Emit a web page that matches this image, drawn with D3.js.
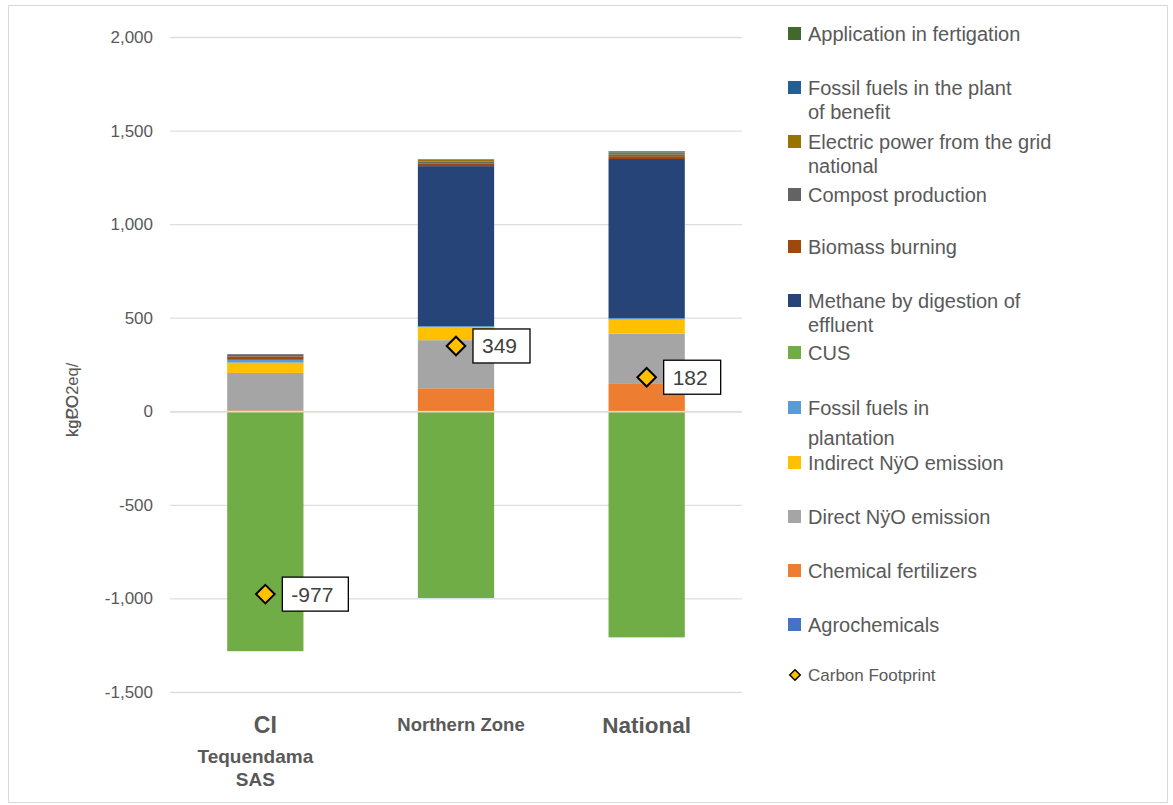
<!DOCTYPE html>
<html>
<head>
<meta charset="utf-8">
<script src="https://cdn.jsdelivr.net/npm/d3@7"></script>
<style>
  body { margin: 0; background: #fff; }
  svg { font-family: "Liberation Sans", Arial, sans-serif; }
</style>
</head>
<body>
<div id="chart"></div>
<script>
// categories (x axis)
const categories = ['CI Tequendama SAS', 'Northern Zone', 'National'];

// series, stacking order bottom -> top (kg CO2eq)
const seriesNames = [
    'Agrochemicals', 'Chemical fertilizers', 'Direct NÿO emission', 'Indirect NÿO emission',
    'Fossil fuels in plantation', 'CUS', 'Methane by digestion of effluent', 'Biomass burning',
    'Compost production', 'Electric power from the grid national',
    'Fossil fuels in the plant of benefit', 'Application in fertigation'
];
const agrochemicals   = [0, 2, 2];
const chemFertilizers = [5, 121, 148];
const directN2O       = [200, 257, 265];
const indirectN2O     = [55, 70, 75];
const fossilPlantation = [15, 5, 8];
const cus             = [-1282, -998, -1208];
const methane         = [0, 855, 850];
const biomass         = [18, 15, 15];
const compost         = [12, 10, 10];
const electric        = [0, 8, 10];
const fossilPlant     = [0, 2, 4];
const fertigation     = [0, 2, 3];
const carbonFootprint = [-977, 349, 182];

const seriesValues = [agrochemicals, chemFertilizers, directN2O, indirectN2O, fossilPlantation,
    cus, methane, biomass, compost, electric, fossilPlant, fertigation];
const seriesColors = ['#4472c4', '#ed7d31', '#a5a5a5', '#ffc000', '#5b9bd5', '#70ad47',
    '#264478', '#9e480e', '#636363', '#997300', '#255e91', '#43682b'];

// y ticks
const yTicks = [-1500, -1000, -500, 0, 500, 1000, 1500, 2000];

// legend (top -> bottom) with wrapped lines
const legendItems = [
    { s: 11, lines: ['Application in fertigation'] },
    { s: 10, lines: ['Fossil fuels in the plant', 'of benefit'] },
    { s: 9,  lines: ['Electric power from the grid', 'national'] },
    { s: 8,  lines: ['Compost production'] },
    { s: 7,  lines: ['Biomass burning'] },
    { s: 6,  lines: ['Methane by digestion of', 'effluent'] },
    { s: 5,  lines: ['CUS'] },
    { s: 4,  lines: ['Fossil fuels in', 'plantation'], gap: 30 },
    { s: 3,  lines: ['Indirect NÿO emission'] },
    { s: 2,  lines: ['Direct NÿO emission'] },
    { s: 1,  lines: ['Chemical fertilizers'] },
    { s: 0,  lines: ['Agrochemicals'] }
];
const legendY = [34, 88, 142, 195, 247, 301, 353, 408, 463, 517, 571, 625];

const width = 1173, height = 805;
const textColor = '#595959';

const svg = d3.select('#chart').append('svg')
    .attr('width', width)
    .attr('height', height);

// chart frame
svg.append('rect')
    .attr('x', 8.5).attr('y', 5.5)
    .attr('width', width - 14).attr('height', height - 8)
    .attr('fill', 'none').attr('stroke', '#d9d9d9');

const scaleX = d3.scaleBand(categories, [170, 742]).paddingInner(0.6).paddingOuter(0.3);
const scaleY = d3.scaleLinear([-1500, 2000], [692, 37]);

// gridlines
svg.append('g').selectAll('line')
    .data(yTicks)
    .join('line')
    .attr('x1', 170).attr('x2', 742)
    .attr('y1', d => scaleY(d) + 0.5).attr('y2', d => scaleY(d) + 0.5)
    .attr('stroke', '#dedede').attr('stroke-width', 1.3);

// y axis labels (plain hyphen for negatives)
const fmt = d3.format(',');
const axisY = svg.append('g')
    .attr('transform', 'translate(170,0)')
    .call(d3.axisLeft(scaleY).tickValues(yTicks).tickSize(0).tickPadding(17)
        .tickFormat(d => fmt(d).replace('\u2212', '-')));
axisY.select('.domain').remove();
axisY.selectAll('text').attr('fill', textColor).style('font-size', '17px');

// stacked bars
const table = categories.map((c, i) => {
    const row = { cat: c };
    seriesNames.forEach((s, j) => row[s] = seriesValues[j][i]);
    return row;
});
const stacked = d3.stack().keys(seriesNames).offset(d3.stackOffsetDiverging)(table);

svg.append('g').selectAll('g')
    .data(stacked)
    .join('g')
    .attr('fill', (d, i) => seriesColors[i])
    .selectAll('rect')
    .data(d => d)
    .join('rect')
    .attr('x', d => scaleX(d.data.cat))
    .attr('width', scaleX.bandwidth())
    .attr('y', d => scaleY(Math.max(d[0], d[1])))
    .attr('height', d => Math.abs(scaleY(d[0]) - scaleY(d[1])));

// zero line on top
svg.append('line')
    .attr('x1', 170).attr('x2', 742)
    .attr('y1', scaleY(0) + 0.5).attr('y2', scaleY(0) + 0.5)
    .attr('stroke', '#e3dcd4').attr('stroke-width', 1.5);

// x labels
const xl = svg.append('g').attr('fill', textColor).attr('font-weight', 'bold').attr('text-anchor', 'middle');
const cx = d => scaleX(d) + scaleX.bandwidth() / 2;
xl.append('text').attr('x', cx(categories[0])).attr('y', 733).style('font-size', '23px').text('CI');
xl.append('text').attr('x', cx(categories[0]) - 10).attr('y', 763).style('font-size', '19px').text('Tequendama');
xl.append('text').attr('x', cx(categories[0]) - 10).attr('y', 786).style('font-size', '19px').text('SAS');
xl.append('text').attr('x', cx(categories[1]) + 5).attr('y', 731).style('font-size', '18.5px').text('Northern Zone');
xl.append('text').attr('x', cx(categories[2])).attr('y', 733).style('font-size', '22.5px').text('National');

// y title (overlapping as in the source)
const yt = svg.append('g').attr('transform', 'translate(78,437) rotate(-90)')
    .attr('fill', textColor).style('font-size', '16.5px');
yt.append('text').text('kgCO2eq/');
yt.append('text').text('kgPC');

// carbon footprint markers and value boxes
const diamond = d3.symbol().type(d3.symbolDiamond2).size(220);
const fp = svg.append('g').selectAll('g')
    .data(categories.map((c, i) => ({ cat: c, v: carbonFootprint[i] })))
    .join('g')
    .attr('transform', d => `translate(${cx(d.cat)},${scaleY(d.v)})`);
fp.append('path')
    .attr('d', diamond)
    .attr('fill', '#ffc000').attr('stroke', '#000').attr('stroke-width', 2);
fp.append('rect')
    .attr('x', 17).attr('y', -17)
    .attr('width', d => d.v < 0 ? 66 : 57).attr('height', 34)
    .attr('fill', '#fff').attr('stroke', '#000').attr('stroke-width', 1.3);
fp.append('text')
    .attr('x', 26).attr('y', 7.5)
    .attr('fill', '#404040').style('font-size', '21px')
    .text(d => d.v);

// legend
const lg = svg.append('g').selectAll('g')
    .data(legendItems)
    .join('g')
    .attr('transform', (d, i) => `translate(788,${legendY[i]})`);
lg.append('rect')
    .attr('x', 0).attr('y', -7).attr('width', 13).attr('height', 13)
    .attr('fill', d => seriesColors[d.s]);
lg.append('text')
    .attr('fill', textColor).style('font-size', '20px')
    .selectAll('tspan')
    .data(d => d.lines.map((l, k) => ({ l, k, gap: d.gap || 24 })))
    .join('tspan')
    .attr('x', 20)
    .attr('y', d => 7 + d.k * d.gap)
    .text(d => d.l);

const lf = svg.append('g').attr('transform', 'translate(795,675)');
lf.append('path')
    .attr('d', d3.symbol().type(d3.symbolDiamond2).size(70))
    .attr('fill', '#ffc000').attr('stroke', '#000').attr('stroke-width', 1.5);
lf.append('text').attr('x', 13).attr('y', 6)
    .attr('fill', textColor).style('font-size', '17px').text('Carbon Footprint');
</script>
</body>
</html>
